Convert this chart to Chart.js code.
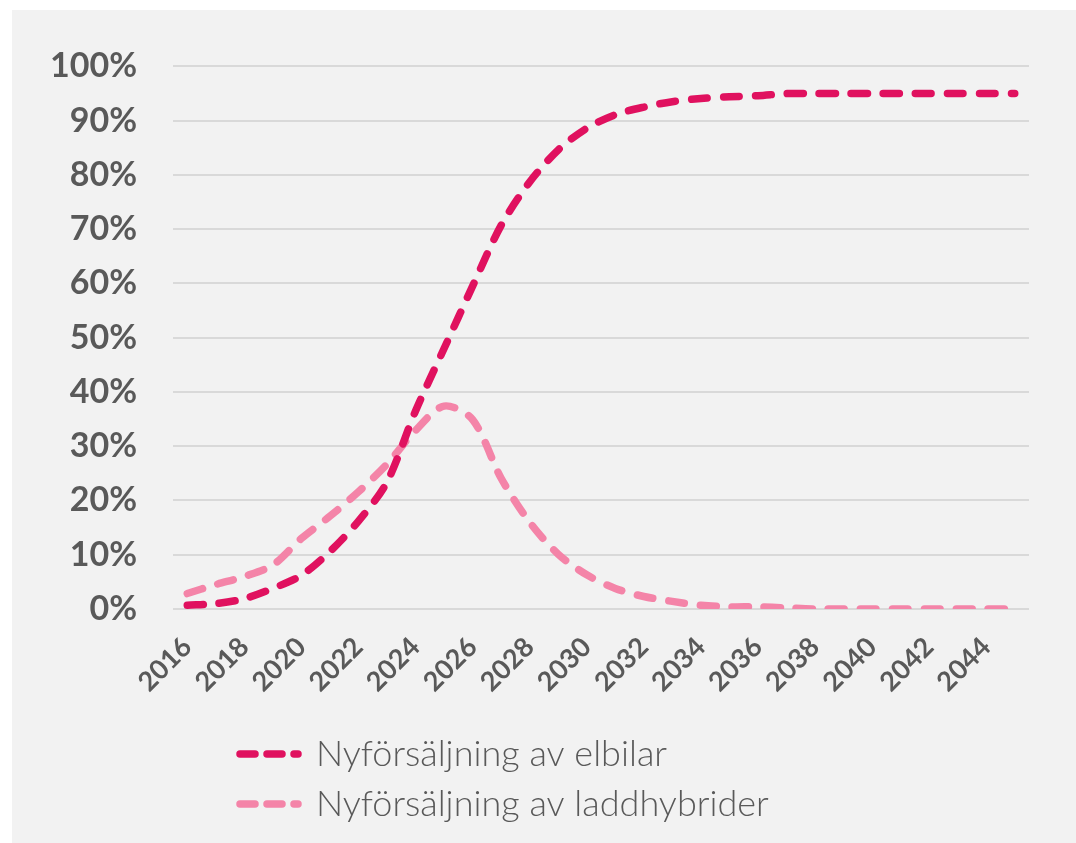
<!DOCTYPE html>
<html>
<head>
<meta charset="utf-8">
<script src="https://cdn.jsdelivr.net/npm/chart.js@4.4.1/dist/chart.umd.min.js"></script>
<style>
  html, body { margin: 0; background: #fff; }
  #wrap { position: absolute; left: 12px; top: 10px; width: 1064px; height: 833px; background: #f2f2f2; }
</style>
</head>
<body>
<div id="wrap"><canvas id="myChart"></canvas></div>
<script>
// Years on the x axis (a label is shown for every second year)
const years = ["2016", "2017", "2018", "2019", "2020", "2021", "2022", "2023", "2024", "2025",
  "2026", "2027", "2028", "2029", "2030", "2031", "2032", "2033", "2034", "2035",
  "2036", "2037", "2038", "2039", "2040", "2041", "2042", "2043", "2044", "2045"];

// Share of new car sales, percent
const elbilar = [0.7, 1.0, 1.9, 3.8, 6.2, 10.6, 16.2, 23.4, 36.5, 48,
  59.5, 70.7, 78.7, 84.6, 88.6, 91.1, 92.5, 93.5, 94.1, 94.4,
  94.6, 95, 95, 95, 95, 95, 95, 95, 95, 95];
const laddhybrider = [2.85, 4.5, 6.0, 8.1, 13, 17.1, 21.6, 26.7, 32.9, 37.4,
  34.9, 24.1, 16, 10.1, 6.3, 3.8, 2.3, 1.4, 0.7, 0.4,
  0.4, 0.2, 0, 0, 0, 0, 0, 0, 0, 0];

const yTicks = [0, 10, 20, 30, 40, 50, 60, 70, 80, 90, 100];

const textColor = "#595959";

// keeps both legend rows starting at the same x
const legendIndent = {
  id: "legendIndent",
  beforeDraw(chart) {
    const lg = chart.legend;
    if (!lg) return;
    lg.left = 228 - lg.options.labels.padding;
  }
};

const ctx = document.getElementById("myChart");

new Chart(ctx, {
  type: "line",
  data: {
    labels: years,
    datasets: [
      {
        label: "Nyförsäljning av elbilar",
        data: elbilar,
        borderColor: "#e0115f",
        backgroundColor: "#e0115f",
        borderWidth: 7.5,
        borderDash: [16, 16],
        borderCapStyle: "round",
        pointRadius: 0,
        tension: 0.3,
        order: 1
      },
      {
        label: "Nyförsäljning av laddhybrider",
        data: laddhybrider,
        borderColor: "#f484a8",
        backgroundColor: "#f484a8",
        borderWidth: 7.5,
        borderDash: [16, 16],
        borderCapStyle: "round",
        pointRadius: 0,
        tension: 0.3,
        order: 2
      }
    ]
  },
  options: {
    responsive: true,
    maintainAspectRatio: false,
    animation: false,
    layout: { padding: { left: 0, right: 47, top: 30, bottom: 11 } },
    plugins: {
      tooltip: { enabled: false },
      legend: {
        position: "bottom",
        align: "start",
        fullSize: false,
        labels: {
          usePointStyle: true,
          pointStyle: "line",
          pointStyleWidth: 58,
          padding: 14,
          color: textColor,
          font: { family: "Lato", size: 36, weight: "300" },
          generateLabels(chart) {
            return chart.data.datasets.map((ds, i) => ({
              text: ds.label,
              fillStyle: ds.borderColor,
              strokeStyle: ds.borderColor,
              fontColor: textColor,
              lineWidth: 7.5,
              lineCap: "round",
              lineDash: [15, 12],
              pointStyle: "line",
              hidden: !chart.isDatasetVisible(i),
              datasetIndex: i
            }));
          }
        }
      }
    },
    scales: {
      x: {
        offset: true,
        grid: { display: false },
        border: { display: false },
        afterFit(scale) { scale.height = 113; },
        ticks: {
          autoSkip: false,
          minRotation: 45,
          maxRotation: 45,
          padding: 14,
          color: textColor,
          font: { family: "Lato", size: 27, weight: "bold" },
          callback(value, index) {
            return index % 2 === 0 ? years[index] : "";
          }
        }
      },
      y: {
        min: 0,
        max: 100,
        afterFit(scale) { scale.width = 161; },
        afterBuildTicks(scale) {
          scale.ticks = yTicks.map((v) => ({ value: v }));
        },
        grid: { color: "#d9d9d9", lineWidth: 2, drawTicks: false },
        border: { display: false },
        ticks: {
          padding: 36,
          color: textColor,
          font: { family: "Lato", size: 34, weight: "bold" },
          callback(value) { return value + "%"; }
        }
      }
    }
  },
  plugins: [legendIndent]
});
</script>
</body>
</html>
